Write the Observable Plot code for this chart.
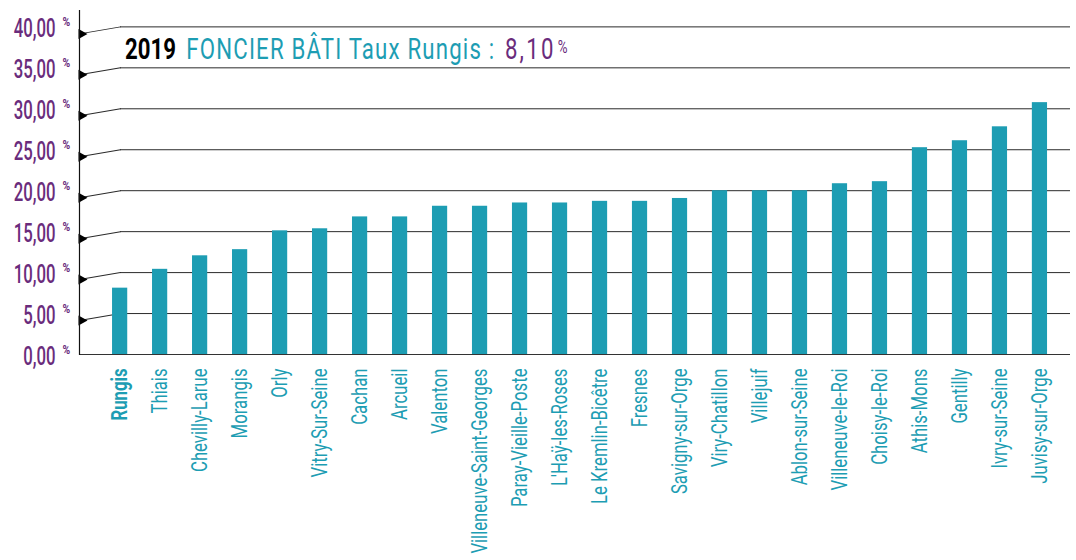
<!DOCTYPE html>
<html>
<head>
<meta charset="utf-8">
<script src="https://cdn.jsdelivr.net/npm/d3@7"></script>
<script src="https://cdn.jsdelivr.net/npm/@observablehq/plot@0.6"></script>
<style>
  body { margin: 0; background: #fff; }
  #wrap { position: relative; width: 1076px; height: 560px; overflow: hidden; }
  #title { position: absolute; left: 125px; top: 34px; white-space: nowrap; line-height: 30px;
           font-family: Roboto, sans-serif; font-size: 30px; transform: scaleX(0.74); transform-origin: 0 0; }
  #title .year { color: #000; font-weight: bold; margin-right: 14px; }
  #title .lbl { color: #1d9db3; font-weight: 400; letter-spacing: 1.6px; }
  #title .val { color: #6a2c7c; font-weight: 400; letter-spacing: 3px; margin-left: 13px; }
  #title .pct { color: #6a2c7c; font-size: 18px; vertical-align: top; position: relative; top: -2px; margin-left: 3px; }
</style>
</head>
<body>
<div id="wrap"><div id="title"></div></div>
<script>
// ---- data ----
const communes = ["Rungis","Thiais","Chevilly-Larue","Morangis","Orly","Vitry-Sur-Seine","Cachan","Arcueil","Valenton","Villeneuve-Saint-Georges","Paray-Vieille-Poste","L'Haÿ-les-Roses","Le Kremlin-Bicêtre","Fresnes","Savigny-sur-Orge","Viry-Chatillon","Villejuif","Ablon-sur-Seine","Villeneuve-le-Roi","Choisy-le-Roi","Athis-Mons","Gentilly","Ivry-sur-Seine","Juvisy-sur-Orge"];
const taux = [8.10, 10.4, 12.05, 12.8, 15.1, 15.35, 16.8, 16.8, 18.1, 18.1, 18.5, 18.5, 18.7, 18.7, 19.05, 20.0, 20.0, 20.0, 20.85, 21.1, 25.25, 26.1, 27.8, 30.75];
const yTicks = [0, 5, 10, 15, 20, 25, 30, 35, 40];
const yTickLabels = ["0,00","5,00","10,00","15,00","20,00","25,00","30,00","35,00","40,00"];
const titleYear = "2019";
const titleLabel = "FONCIER BÂTI Taux Rungis :";
const titleValue = "8,10";
const highlight = "Rungis";

// ---- styles ----
const teal = "#1d9db3";
const purple = "#6a2c7c";
const font = "Roboto, sans-serif";

const data = communes.map((c, i) => ({commune: c, taux: taux[i]}));
const gridTicks = yTicks.filter(d => d > 0);

const segment = { draw(context, l) { context.moveTo(0, 0); context.lineTo(0, -l); } };
const wedge = { draw(context) { context.moveTo(-1, -5); context.lineTo(8, 0); context.lineTo(-1, 5); context.closePath(); } };

const chart = Plot.plot({
  width: 1076,
  height: 560,
  marginLeft: 79,
  marginRight: 6,
  marginTop: 10,
  marginBottom: 206,
  style: { fontFamily: font, background: "transparent" },
  x: { domain: communes, paddingInner: 0.62, paddingOuter: 0.7, align: 0.59, round: false, axis: null },
  y: { domain: [0, 42], axis: null },
  marks: [
    Plot.ruleY(gridTicks, { insetLeft: 41, stroke: "#2a2a2a", strokeWidth: 1 }),
    Plot.vector(gridTicks, { y: d => d, frameAnchor: "left", dy: 7, length: 41.6, rotate: 80.3, anchor: "start", shape: segment, stroke: "#2a2a2a", strokeWidth: 1 }),
    Plot.dot(gridTicks, { y: d => d, frameAnchor: "left", dy: 7, symbol: wedge, fill: "#000", stroke: "none", r: 5 }),
    Plot.barY(data, { x: "commune", y: "taux", fill: teal }),
    Plot.ruleY([0], { stroke: "#333", strokeWidth: 1.2 }),
    Plot.frame({ anchor: "left", stroke: "#111", strokeWidth: 1.2 }),
    Plot.text(yTicks, { y: d => d, text: (d, i) => yTickLabels[i], frameAnchor: "left", textAnchor: "end", dx: -24, dy: 2, fill: purple, fontSize: 25, fontWeight: 500, ariaLabel: () => "ylabels", ariaDescription: "ylabels" }),
    Plot.text(yTicks, { y: d => d, text: () => "%", frameAnchor: "left", textAnchor: "start", dx: -17, dy: -5, fill: purple, fontSize: 13, fontWeight: "bold", ariaLabel: () => "ypct", ariaDescription: "ypct" }),
    Plot.text(data.filter(d => d.commune !== highlight), { x: "commune", y: () => 0, text: "commune", rotate: -90, textAnchor: "end", dy: 14, fill: teal, fontSize: 22, ariaLabel: () => "xlabels", ariaDescription: "xlabels" }),
    Plot.text(data.filter(d => d.commune === highlight), { x: "commune", y: () => 0, text: "commune", rotate: -90, textAnchor: "end", dy: 14, fill: teal, fontSize: 22, fontWeight: "bold", ariaLabel: () => "xlabels", ariaDescription: "xlabels" })
  ]
});

document.getElementById("wrap").appendChild(chart);

// condense glyphs (the reference uses a condensed typeface)
function condense(label, k) {
  const els = new Set([
    ...chart.querySelectorAll(`text[aria-label="${label}"]`),
    ...chart.querySelectorAll(`g[aria-description="${label}"] text`)
  ]);
  els.forEach(el => {
    const len = el.getComputedTextLength();
    el.setAttribute("textLength", (len * k).toFixed(1));
    el.setAttribute("lengthAdjust", "spacingAndGlyphs");
  });
}
condense("ylabels", 0.67);
condense("ypct", 0.8);
condense("xlabels", 0.76);

const t = document.getElementById("title");
t.innerHTML = `<span class="year">${titleYear}</span><span class="lbl">${titleLabel}</span><span class="val">${titleValue}</span><span class="pct">%</span>`;
</script>
</body>
</html>
